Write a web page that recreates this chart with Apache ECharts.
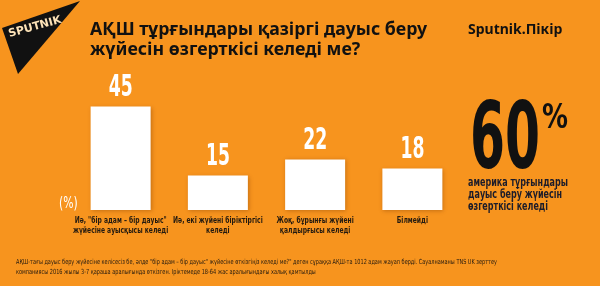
<!DOCTYPE html>
<html>
<head>
<meta charset="utf-8">
<script src="https://cdn.jsdelivr.net/npm/echarts@6/dist/echarts.min.js"></script>
<style>
  html, body { margin: 0; padding: 0; background: #f7941e; }
  #chart { width: 600px; height: 286px; }
</style>
</head>
<body>
<div id="chart"></div>
<script>
// data
const categories = [
  'Иә, "бір адам – бір дауыс"\nжүйесіне ауысқысы келеді',
  'Иә, екі жүйені біріктіргісі\nкеледі',
  'Жоқ, бұрынғы жүйені\nқалдырғысы келеді',
  'Білмейді'
];
const values = [45, 15, 22, 18];

const titleLines = ['АҚШ тұрғындары қазіргі дауыс беру', 'жүйесін өзгерткісі келеді ме?'];
const bigValue = '60';
const bigNote = ['америка тұрғындары', 'дауыс беру жүйесін', 'өзгерткісі келеді'];
const footnote = [
  'АҚШ-тағы дауыс беру жүйесіне келісесіз бе, әлде "бір адам – бір дауыс" жүйесіне өткізгіңіз келеді ме?" деген сұраққа АҚШ-та 1012 адам жауап берді. Сауалнаманы TNS UK зерттеу',
  'компаниясы 2016 жылы 3-7 қараша аралығында өткізген. Іріктемеде 18-64 жас аралығындағы халық қамтылды'
];

const cond = '"DejaVu Sans Condensed", "DejaVu Sans", sans-serif';
const dark = '#231a10';

// the picture uses a very narrow face, so squeeze text horizontally to fit
const measureCtx = document.createElement('canvas').getContext('2d');
function fitScale(text, font, width) {
  measureCtx.font = font;
  return width / measureCtx.measureText(text).width;
}

const fontValue = 'bold 30px ' + cond;
const fontCat = 'bold 9px ' + cond;
const fontBig = 'bold 93px ' + cond;
const fontPct = 'bold 33px ' + cond;
const fontNote = 'bold 11.5px ' + cond;
const fontFoot = '7px ' + cond;
const fontTitle = 'bold 17px "Noto Sans", sans-serif';

const chart = echarts.init(document.getElementById('chart'), null, { renderer: 'canvas' });

const option = {
  backgroundColor: '#f7941e',
  animation: false,
  grid: {
    left: 72,
    width: 389,
    top: 95,
    bottom: 76
  },
  xAxis: {
    type: 'category',
    data: categories,
    axisLine: { show: false },
    axisTick: { show: false },
    axisLabel: { show: false }
  },
  yAxis: {
    type: 'value',
    min: 0,
    max: 50,
    show: false
  },
  series: [
    {
      type: 'bar',
      data: values,
      barWidth: 60,
      itemStyle: {
        color: '#ffffff',
        shadowBlur: 4,
        shadowColor: 'rgba(110,45,0,0.35)',
        shadowOffsetX: 1,
        shadowOffsetY: 1
      }
    }
  ],
  graphic: [
    // logo
    {
      type: 'polygon',
      shape: { points: [[2, 28], [80, 1], [18, 74]] },
      style: { fill: '#111111' }
    },
    {
      type: 'text',
      x: 35, y: 27,
      rotation: 0.27,
      style: {
        text: 'SPUTNIK',
        x: 0, y: 0,
        align: 'center',
        verticalAlign: 'middle',
        fill: '#fde3b8',
        font: 'bold 11px "DejaVu Sans", sans-serif'
      }
    },
    // title
    {
      type: 'text',
      x: 90, y: 20,
      scaleX: fitScale(titleLines[0], fontTitle, 337),
      style: {
        text: titleLines.join('\n'),
        x: 0, y: 0,
        fill: '#111111',
        font: fontTitle,
        lineHeight: 20,
        verticalAlign: 'top'
      }
    },
    {
      type: 'text',
      x: 468, y: 30,
      style: {
        text: 'Sputnik.Пікір',
        fill: '#111111',
        font: 'bold 14px "Noto Sans", sans-serif',
        verticalAlign: 'middle'
      }
    },
    {
      type: 'text',
      x: 59, y: 204,
      scaleX: 0.8,
      style: {
        text: '(%)',
        x: 0, y: 0,
        fill: '#ffffff',
        font: '15px ' + cond,
        verticalAlign: 'middle'
      }
    },
    // big number
    {
      type: 'text',
      x: 470, y: 144,
      scaleX: fitScale(bigValue, fontBig, 70),
      style: {
        text: bigValue,
        x: 0, y: 0,
        fill: '#111111',
        font: fontBig,
        verticalAlign: 'middle'
      }
    },
    {
      type: 'text',
      x: 542, y: 119,
      scaleX: fitScale('%', fontPct, 26),
      style: {
        text: '%',
        x: 0, y: 0,
        fill: '#111111',
        font: fontPct,
        verticalAlign: 'middle'
      }
    },
    {
      type: 'text',
      x: 468, y: 177,
      scaleX: fitScale(bigNote[0], fontNote, 100),
      style: {
        text: bigNote.join('\n'),
        x: 0, y: 0,
        fill: '#1c1c2a',
        font: fontNote,
        lineHeight: 12,
        verticalAlign: 'top'
      }
    },
    // footnote
    {
      type: 'text',
      x: 16, y: 257,
      scaleX: fitScale(footnote[0], fontFoot, 481),
      style: {
        text: footnote.join('\n'),
        x: 0, y: 0,
        fill: dark,
        font: fontFoot,
        lineHeight: 10,
        verticalAlign: 'top'
      }
    }
  ]
};

chart.setOption(option);

// value labels and category labels placed from the chart's own scales
const valueScale = fitScale('45', fontValue, 24);
const catScale = fitScale(categories[0].split('\n')[0], fontCat, 92);
const labels = [];
values.forEach((v, i) => {
  const top = chart.convertToPixel({ seriesIndex: 0 }, [i, v]);
  const base = chart.convertToPixel({ seriesIndex: 0 }, [i, 0]);
  labels.push({
    type: 'text',
    x: top[0], y: top[1] - 18,
    scaleX: valueScale,
    style: {
      text: String(v),
      x: 0, y: 0,
      align: 'center',
      verticalAlign: 'middle',
      fill: '#ffffff',
      font: fontValue,
      shadowColor: 'rgba(90,35,0,0.45)',
      shadowBlur: 2,
      shadowOffsetX: 1,
      shadowOffsetY: 1
    }
  });
  labels.push({
    type: 'text',
    x: base[0], y: base[1] + 6,
    scaleX: catScale,
    style: {
      text: categories[i],
      x: 0, y: 0,
      align: 'center',
      verticalAlign: 'top',
      fill: dark,
      font: fontCat,
      lineHeight: 10
    }
  });
});
chart.setOption({ graphic: option.graphic.concat(labels) });

window.addEventListener('resize', chart.resize);
</script>
</body>
</html>
